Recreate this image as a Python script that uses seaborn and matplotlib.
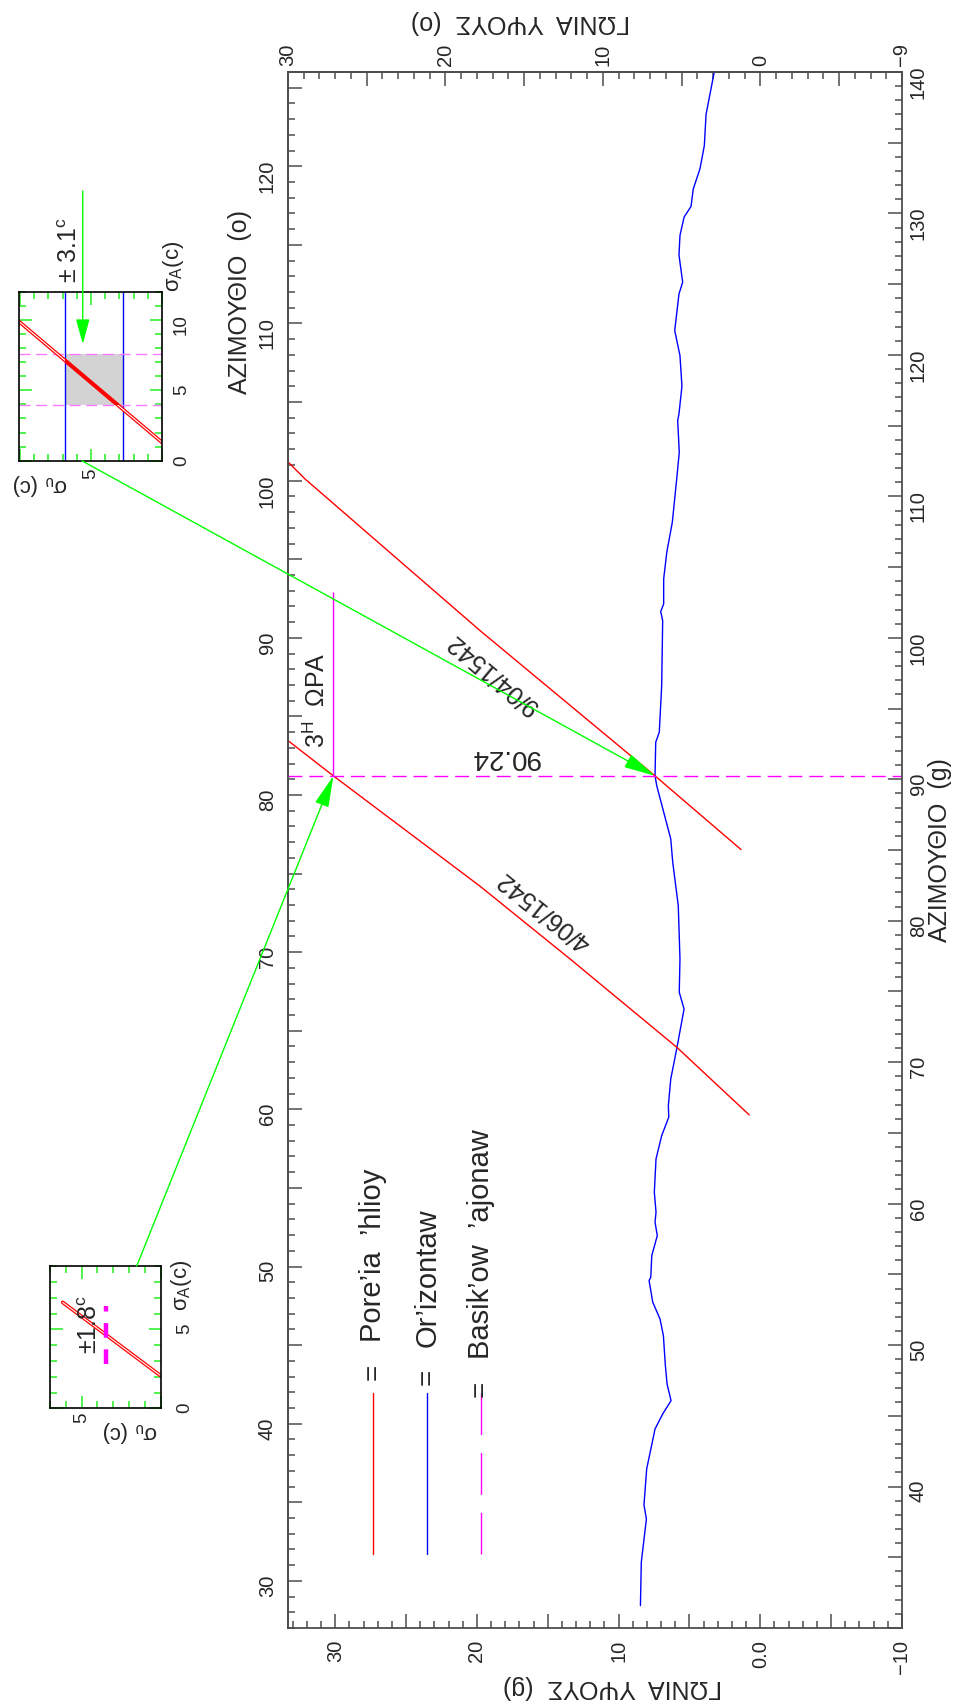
import numpy as np
import pandas as pd
import matplotlib
matplotlib.use("Agg")
import matplotlib.pyplot as plt
import seaborn as sns
from matplotlib.ticker import MultipleLocator, FixedLocator, FuncFormatter, FixedFormatter
from matplotlib.patches import ConnectionPatch
from matplotlib.lines import Line2D

# ---------------- data (grads unless noted) ----------------
horizon_elev = [8.46, 8.40, 8.04, 8.21, 8.02, 7.43, 6.89, 6.30, 6.58, 6.70,
                6.84, 7.08, 7.59, 7.85, 7.73, 7.66, 7.27, 7.43, 7.36, 7.48,
                7.36, 6.96, 6.46, 6.49, 6.32, 5.90, 5.38, 5.72, 5.67, 5.79,
                6.18, 6.32, 7.31, 7.43, 7.38, 7.13, 6.96, 6.89, 7.03, 6.82,
                6.82, 6.60, 6.21, 5.90, 5.72, 5.83, 5.74, 5.53, 5.67, 6.04,
                5.74, 5.48, 5.74, 5.67, 5.38, 4.89, 4.73, 4.26, 3.95, 3.83, 3.25]
horizon_azim = [31.58, 34.64, 37.71, 38.70, 41.24, 44.07, 45.13, 46.07, 47.25, 48.55,
                50.67, 51.85, 53.03, 54.56, 54.80, 56.33, 57.74, 58.69, 59.39, 60.81,
                63.16, 64.81, 66.11, 66.93, 68.81, 70.94, 73.76, 74.94, 77.30, 81.07,
                84.13, 85.78, 89.55, 90.24, 92.62, 93.33, 96.62, 101.22, 101.85, 102.40,
                104.16, 106.05, 108.17, 111.23, 113.12, 115.36, 115.83, 117.79, 119.95, 121.72,
                124.31, 125.14, 127.07, 128.44, 129.74, 130.50, 131.74, 133.15, 134.80, 137.00, 140.00]

sun_0904_elev = [33.33, 32.13, 19.78, 7.43, 1.36]
sun_0904_azim = [112.43, 111.23, 100.51, 90.24, 85.03]
sun_0406_elev = [33.33, 30.13, 19.78, 13.43, 5.90, 0.78]
sun_0406_azim = [92.73, 90.24, 82.44, 77.30, 71.06, 66.27]

axis_azim = 90.24          # Basik'ow 'ajonaw
hour3_elev = 30.13         # 3H ΩΡΑ
hour3_azim_top = 103.23
point_low = (7.43, 90.24)
point_high = (30.13, 90.24)

# inset (upper): sigma_u horizontal, sigma_A vertical
in2_band_u = [2.77, 6.80]
in2_band_A = [3.95, 7.60]
in2_red_u = [10.05, 0.0]
in2_red_A = [9.86, 1.30]
in2_arrow_u = 5.58
in2_arrow_A = [19.15, 8.28]
in2_link = (5.65, 0.0)

# inset (lower)
in1_red_u = [6.2, 0.0]
in1_red_A = [6.71, 2.06]
in1_mag_u = 3.46
in1_mag_A = [2.80, 6.49]
in1_link = (1.52, 9.0)

# ---------------- style ----------------
sns.set_theme(style="white")
plt.rcParams["font.family"] = ["Liberation Sans", "DejaVu Sans"]
plt.rcParams["mathtext.default"] = "regular"
plt.rcParams["axes.unicode_minus"] = True

W, H = 959, 1706
def fp(x, y):
    return (x / W, 1 - y / H)

TXT = "#262626"
FR = "#4d4d4d"
RED, BLUE, GREEN, MAG = "#ff0000", "#0000ff", "#00ff00", "#ff00ff"

fig = plt.figure(figsize=(W / 100, H / 100), dpi=100)
fig.patch.set_facecolor("white")

ax = fig.add_axes([288 / W, 1 - 1629 / H, 614 / W, 1556 / H])
ax.set_facecolor("white")
ax.set_xlim(100 / 3, -10)
ax.set_ylim(30, 140)

# lines
sns.lineplot(x=horizon_elev, y=horizon_azim, sort=False, estimator=None,
             color=BLUE, lw=1.0, ax=ax, legend=False)
sns.lineplot(x=sun_0904_elev, y=sun_0904_azim, sort=False, estimator=None,
             color=RED, lw=1.0, ax=ax, legend=False)
sns.lineplot(x=sun_0406_elev, y=sun_0406_azim, sort=False, estimator=None,
             color=RED, lw=1.0, ax=ax, legend=False)
ax.axhline(axis_azim, color=MAG, lw=1.0, dashes=(10, 5))
ax.vlines(hour3_elev, axis_azim, hour3_azim_top, color=MAG, lw=1.0)

# texts on the chart
ax.text(18.0, 91.65, "90.24", rotation=180, ha="center", va="center", fontsize=20, color=TXT)
ax.text(18.9, 97.55, "9/04/1542", rotation=140, ha="center", va="center", fontsize=18, color=TXT,
        rotation_mode="anchor")
ax.text(15.25, 80.8, "4/06/1542", rotation=141.5, ha="center", va="center", fontsize=18, color=TXT,
        rotation_mode="anchor")
ax.text(31.28, 95.68, "3$^{H}$  ΩΡΑ", rotation=90, ha="center", va="center", fontsize=18, color=TXT)

# ticks: bottom (grads)
ax.xaxis.set_major_locator(MultipleLocator(5))
ax.xaxis.set_minor_locator(MultipleLocator(1))
def fmt_bottom(v, p):
    if abs(v) < 1e-9:
        return "0.0"
    if abs(v % 10) < 1e-6:
        return f"{v:.0f}".replace("-", "\u2212")
    return ""
ax.xaxis.set_major_formatter(FuncFormatter(fmt_bottom))
ax.tick_params(axis="x", which="both", direction="in", top=False, bottom=True,
               color=FR, width=1.1, labelcolor=TXT)
ax.tick_params(axis="x", which="major", length=10, pad=8, labelsize=14.5, labelrotation=90)
ax.tick_params(axis="x", which="minor", length=5)

# ticks: right (grads)
ax.yaxis.set_major_locator(MultipleLocator(5))
ax.yaxis.set_minor_locator(MultipleLocator(1))
def fmt_right(v, p):
    if abs(v % 10) < 1e-6 and 40 <= v <= 140:
        return f"{v:.0f}"
    return ""
ax.yaxis.set_major_formatter(FuncFormatter(fmt_right))
ax.tick_params(axis="y", which="both", direction="in", left=False, right=True,
               labelleft=False, labelright=True, color=FR, width=1.1, labelcolor=TXT)
ax.tick_params(axis="y", which="major", length=10, pad=5, labelsize=14.5, labelrotation=90)
ax.tick_params(axis="y", which="minor", length=5)

for s in ax.spines.values():
    s.set_color(FR)
    s.set_linewidth(1.3)

# secondary axes in degrees
g2d = lambda g: np.asarray(g) * 0.9
d2g = lambda d: np.asarray(d) / 0.9

sec_left = ax.secondary_yaxis("left", functions=(g2d, d2g))
sec_left.yaxis.set_major_locator(MultipleLocator(5))
sec_left.yaxis.set_minor_locator(MultipleLocator(1))
sec_left.yaxis.set_major_formatter(FuncFormatter(
    lambda v, p: f"{v:.0f}" if abs(v % 10) < 1e-6 and 30 <= v <= 120 else ""))
sec_left.tick_params(which="both", direction="in", color=FR, width=1.1, labelcolor=TXT)
sec_left.tick_params(which="major", length=10, pad=8, labelsize=14.5, labelrotation=90)
sec_left.tick_params(which="minor", length=5)

sec_top = ax.secondary_xaxis("top", functions=(g2d, d2g))
sec_top.xaxis.set_major_locator(FixedLocator([30, 25, 20, 15, 10, 5, 0, -5, -9]))
sec_top.xaxis.set_minor_locator(MultipleLocator(1))
def fmt_top(v, p):
    if abs(v + 9) < 1e-6:
        return "\u22129"
    if abs(v % 10) < 1e-6:
        return f"{v:.0f}"
    return ""
sec_top.xaxis.set_major_formatter(FuncFormatter(fmt_top))
sec_top.tick_params(which="both", direction="in", color=FR, width=1.1, labelcolor=TXT)
sec_top.tick_params(which="major", length=10, pad=5, labelsize=14.5, labelrotation=90)
sec_top.tick_params(which="minor", length=5)
for sec in (sec_left, sec_top):
    for s in sec.spines.values():
        s.set_color(FR)
        s.set_linewidth(1.3)

# axis titles
fig.text(*fp(940, 850), "ΑΖΙΜΟΥΘΙΟ  (g)", rotation=90, ha="center", va="center", fontsize=18, color=TXT)
fig.text(*fp(240, 302), "ΑΖΙΜΟΥΘΙΟ  (o)", rotation=90, ha="center", va="center", fontsize=18, color=TXT)
fig.text(*fp(520, 22), "ΓΩΝΙΑ  ΥΨΟΥΣ  (o)", rotation=180, ha="center", va="center", fontsize=18, color=TXT)
fig.text(*fp(613, 1687), "ΓΩΝΙΑ  ΥΨΟΥΣ  (g)", rotation=180, ha="center", va="center", fontsize=18, color=TXT)

# legend (rotated, drawn in axes fraction)
def af(px, py):
    return ((px - 288) / 614, (1629 - py) / 1556)
legend_items = [
    (373.3, RED, "-", "Pore\u2019ia  \u2019hlioy", 1380, 1342),
    (427.3, BLUE, "-", "Or\u2019izontaw", 1385, 1347),
    (481.0, MAG, "--", "Basik\u2019ow  \u2019ajonaw", 1397, 1359),
]
for px, col, ls, lab, eq_y, t_y in legend_items:
    x0, y0 = af(px, 1555)
    x1, y1 = af(px, 1394)
    ln = Line2D([x0, x1], [y0, y1], transform=ax.transAxes, color=col, lw=1.0)
    if ls == "--":
        ln.set_dashes((30, 13))
    ax.add_line(ln)
    ax.text(*af(px, eq_y), "=", transform=ax.transAxes, rotation=90, ha="center", va="bottom",
            fontsize=20, color=TXT)
    ax.text(*af(px, t_y), lab, transform=ax.transAxes, rotation=90, ha="center", va="bottom",
            fontsize=21, color=TXT)

# ---------------- insets ----------------
def style_inset(a, xt, xl, yt, yl):
    a.set_facecolor("white")
    a.xaxis.set_major_locator(FixedLocator(xt))
    a.xaxis.set_major_formatter(FixedFormatter(xl))
    a.yaxis.set_major_locator(FixedLocator(yt))
    a.yaxis.set_major_formatter(FixedFormatter(yl))
    a.xaxis.set_minor_locator(MultipleLocator(1))
    a.yaxis.set_minor_locator(MultipleLocator(1))
    a.tick_params(which="both", direction="in", top=True, bottom=True, left=True, right=True,
                  labelleft=False, labelright=True, labelbottom=True, labeltop=False,
                  color="#22ee22", width=1.1, labelcolor=TXT)
    a.tick_params(which="major", length=9, labelsize=13.5, labelrotation=90)
    a.tick_params(which="minor", length=5)
    a.tick_params(axis="x", which="major", pad=5)
    a.tick_params(axis="y", which="major", pad=8)
    for s in a.spines.values():
        s.set_color("black")
        s.set_linewidth(1.2)

# upper inset
ax2 = fig.add_axes([19.3 / W, 1 - 461.7 / H, 142.7 / W, 169 / H])
ax2.set_xlim(10.05, 0)
ax2.set_ylim(0, 12)
style_inset(ax2, [0, 5, 10], ["", "5", ""], [0, 5, 10], ["0", "5", "10"])
box = ax2.fill_between(in2_band_u, in2_band_A[0], in2_band_A[1], color="#d3d3d3", lw=0, zorder=1)
for u in in2_band_u:
    ax2.axvline(u, color=BLUE, lw=1.0, zorder=2)
for a_ in in2_band_A:
    ax2.axhline(a_, color="#ff7cff", lw=1.0, dashes=(8, 4), zorder=2)
sns.lineplot(x=in2_red_u, y=in2_red_A, sort=False, estimator=None, color=RED, lw=2.6, ax=ax2, legend=False)
sns.lineplot(x=in2_red_u, y=in2_red_A, sort=False, estimator=None, color="white", lw=0.8, ax=ax2, legend=False)
thick = ax2.plot(in2_red_u, in2_red_A, color=RED, lw=2.8, zorder=4)[0]
thick.set_clip_path(box.get_paths()[0], transform=ax2.transData)
ax2.annotate("", xy=(in2_arrow_u, in2_arrow_A[1]), xytext=(in2_arrow_u, in2_arrow_A[0]),
             xycoords="data", annotation_clip=False,
             arrowprops=dict(arrowstyle="-|>,head_length=1.1,head_width=0.3", color=GREEN, lw=1.0,
                             shrinkA=0, shrinkB=0, mutation_scale=14))

# lower inset
ax1 = fig.add_axes([50 / W, 1 - 1409.3 / H, 110.7 / W, 142.6 / H])
ax1.set_xlim(7.0, 0)
ax1.set_ylim(0, 9.03)
style_inset(ax1, [0, 5], ["", "5"], [0, 5], ["0", "5"])
ax1.tick_params(axis="x", which="major", pad=2)
ax1.tick_params(axis="y", which="major", pad=11)
sns.lineplot(x=in1_red_u, y=in1_red_A, sort=False, estimator=None, color=RED, lw=2.6, ax=ax1, legend=False)
sns.lineplot(x=in1_red_u, y=in1_red_A, sort=False, estimator=None, color="white", lw=0.8, ax=ax1, legend=False)
ax1.vlines(in1_mag_u, in1_mag_A[0], in1_mag_A[1], color=MAG, lw=3.2, linestyles=(0, (3.3, 2.6)), zorder=5)

# inset annotations
fig.text(*fp(70, 250), "\u00b1 3.1$^{c}$", rotation=90, ha="center", va="center", fontsize=18, color=TXT)
fig.text(*fp(174, 266), "σ$_{A}$(c)", rotation=90, ha="center", va="center", fontsize=16, color=TXT)
fig.text(*fp(40, 485), "σ$_{υ}$ (c)", rotation=180, ha="center", va="center", fontsize=16, color=TXT)
fig.text(*fp(90, 1324), "\u00b11.8$^{c}$", rotation=90, ha="center", va="center", fontsize=18, color=TXT,
         zorder=10)
fig.text(*fp(182, 1285), "σ$_{A}$(c)", rotation=90, ha="center", va="center", fontsize=16, color=TXT)
fig.text(*fp(130, 1432), "σ$_{υ}$ (c)", rotation=180, ha="center", va="center", fontsize=16, color=TXT)

# green connecting arrows
arrow_style = "-|>,head_length=1.4,head_width=0.32"
for a_in, p_in, p_main in ((ax1, in1_link, point_high), (ax2, in2_link, point_low)):
    con = ConnectionPatch(xyA=p_in, coordsA="data", axesA=a_in,
                          xyB=p_main, coordsB="data", axesB=ax,
                          arrowstyle=arrow_style, color=GREEN, lw=1.0,
                          shrinkA=0, shrinkB=0, mutation_scale=14, zorder=6)
    fig.add_artist(con)

fig.savefig("out.png", dpi=100, facecolor="white")
